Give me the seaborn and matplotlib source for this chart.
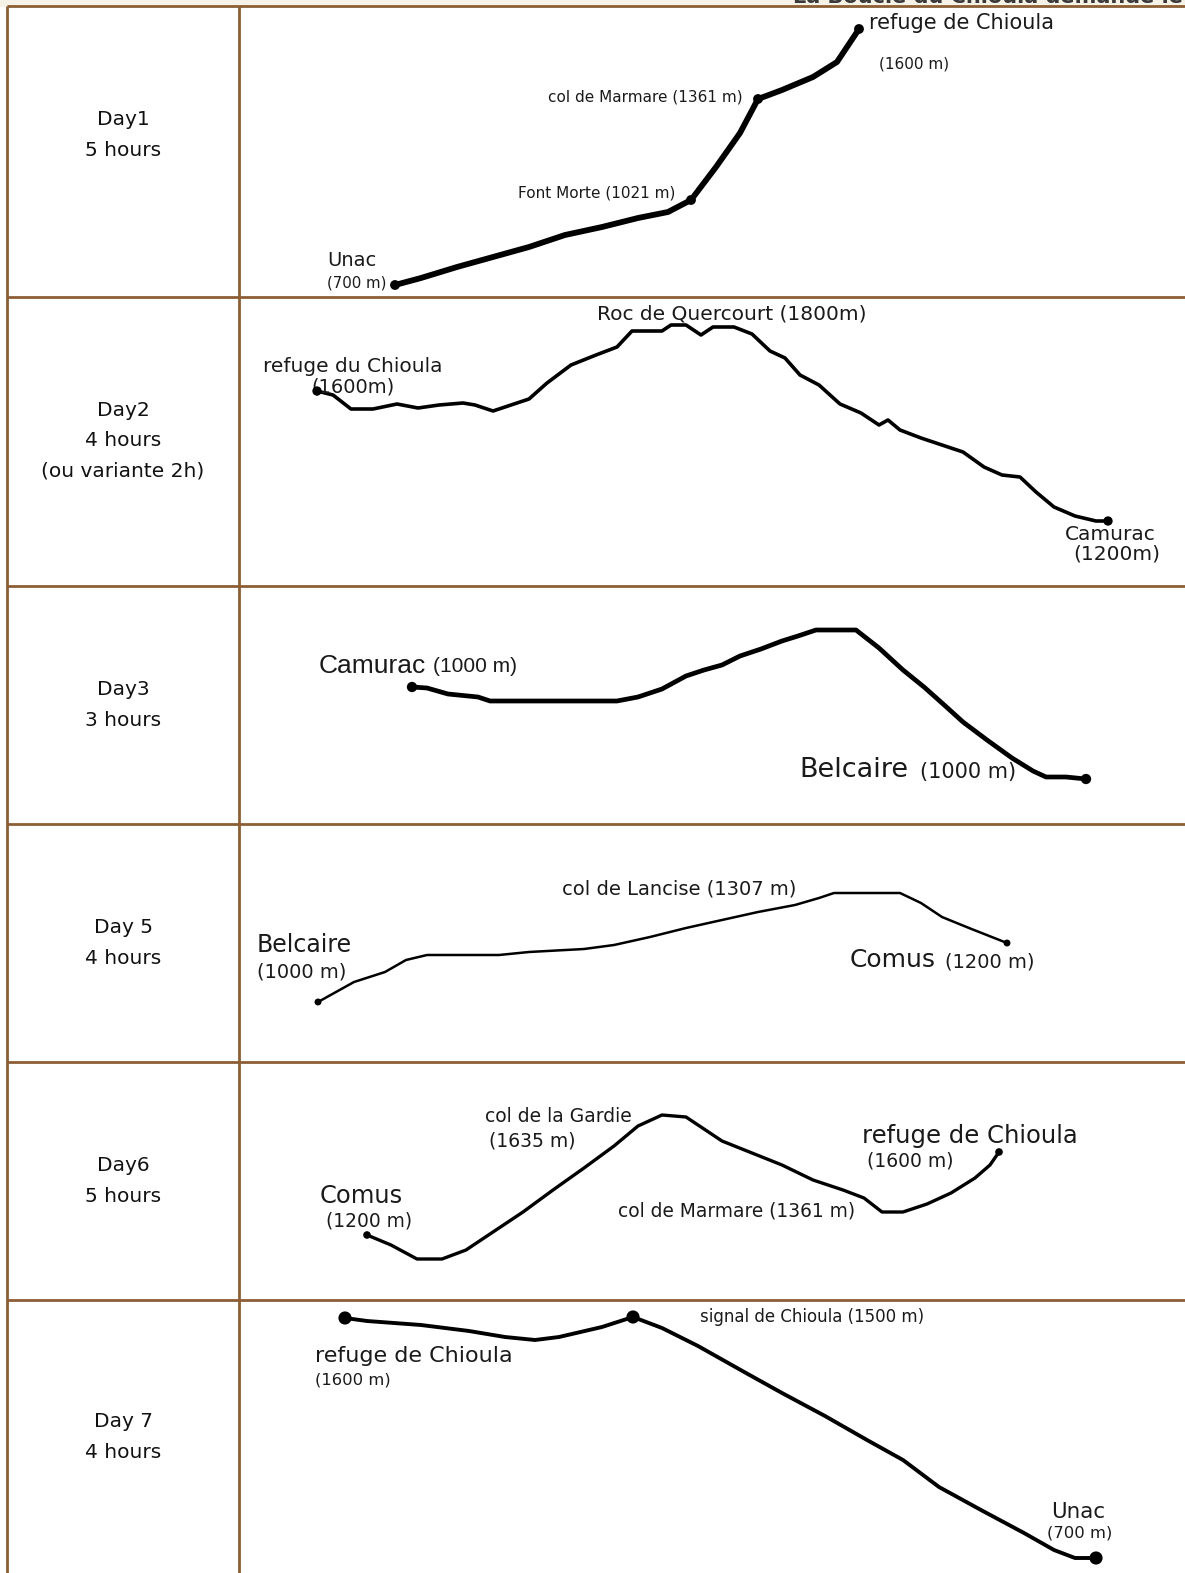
# Elevation profiles of the Chioula loop, one row per walking day
import pandas as pd
import seaborn as sns
from matplotlib import pyplot as plt

# ---- data (pixel positions of the traced profiles) ----
day_titles = ["Day1\n5 hours", "Day2\n4 hours\n(ou variante 2h)", "Day3\n3 hours",
              "Day 5\n4 hours", "Day6\n5 hours", "Day 7\n4 hours"]

day1_x = [395, 421, 457, 493, 529, 565, 602, 638, 668, 691, 716, 740, 758, 782, 813, 837, 859]
day1_y = [285, 278, 267, 257, 247, 235, 227, 218, 212, 200, 167, 133, 99, 90, 77, 62, 29]

day2_x = [317, 333, 351, 373, 397, 418, 439, 463, 475, 493, 508, 529, 547, 571, 596, 617,
          632, 662, 671, 686, 701, 713, 734, 752, 770, 785, 800, 819, 840, 861, 879, 888,
          900, 921, 942, 963, 984, 1002, 1020, 1036, 1054, 1075, 1096, 1108]
day2_y = [391, 395, 409, 409, 404, 408, 405, 403, 405, 411, 406, 399, 383, 365, 355, 347,
          331, 331, 325, 325, 335, 327, 327, 334, 351, 358, 375, 385, 404, 413, 425, 420,
          430, 438, 445, 452, 467, 475, 477, 492, 507, 516, 521, 521]

day3_x = [412, 427, 448, 478, 490, 584, 617, 638, 662, 686, 704, 722, 740, 761, 782, 798,
          816, 856, 879, 903, 924, 942, 963, 987, 1012, 1033, 1046, 1066, 1086]
day3_y = [687, 688, 694, 697, 701, 701, 701, 697, 689, 676, 670, 665, 656, 649, 641, 636,
          630, 630, 648, 670, 687, 703, 722, 740, 758, 771, 777, 777, 779]

day5_x = [318, 336, 354, 385, 406, 427, 499, 529, 584, 614, 650, 686, 722, 758, 795, 819,
          834, 900, 921, 942, 969, 1007]
day5_y = [1002, 992, 982, 972, 960, 955, 955, 952, 949, 945, 937, 928, 920, 912, 905, 898,
          893, 893, 903, 917, 928, 943]

day6_x = [367, 391, 417, 442, 466, 493, 523, 553, 584, 614, 638, 662, 686, 704, 722, 752,
          782, 813, 843, 864, 882, 903, 927, 951, 975, 990, 999]
day6_y = [1235, 1245, 1259, 1259, 1250, 1232, 1212, 1190, 1168, 1146, 1126, 1115, 1117, 1129,
          1141, 1153, 1165, 1180, 1190, 1198, 1212, 1212, 1204, 1193, 1178, 1165, 1152]

day7_x = [345, 367, 421, 469, 505, 535, 559, 602, 633, 662, 698, 746, 782, 825, 867, 903,
          939, 981, 1024, 1054, 1075, 1096]
day7_y = [1318, 1321, 1325, 1331, 1337, 1340, 1337, 1327, 1317, 1328, 1346, 1373, 1393, 1416,
          1440, 1460, 1487, 1510, 1533, 1550, 1558, 1558]

profiles = [(day1_x, day1_y), (day2_x, day2_y), (day3_x, day3_y),
            (day5_x, day5_y), (day6_x, day6_y), (day7_x, day7_y)]

# indices of the named stops that get a dot
stops = [[0, 9, 12, 16], [0, -1], [0, -1], [0, -1], [0, -1], [0, 8, -1]]

# ---- layout ----
W, H = 1185, 1573
row_edges = [6, 297, 586, 824, 1062, 1300]
col_left, col_mid = 7, 239
grid_color = "#8B5E34"
line_widths = [4.2, 2.6, 3.4, 1.8, 2.4, 2.8]
dot_sizes = [50, 45, 55, 25, 30, 90]
day_title_y = [135, 441, 705, 943, 1181, 1437]

# (text, x, y, size, family) - x is the left edge, y the vertical centre
labels = [
    ("refuge de Chioula", 869, 23, 15, "DejaVu Sans"),
    ("(1600 m)", 879, 64, 11, "DejaVu Sans"),
    ("col de Marmare (1361 m)", 548, 97, 11, "DejaVu Sans"),
    ("Font Morte (1021 m)", 518, 193, 11, "DejaVu Sans"),
    ("Unac", 327, 261, 14, "DejaVu Sans"),
    ("(700 m)", 327, 283, 10.8, "DejaVu Sans"),
    ("Roc de Quercourt (1800m)", 597, 314, 14.5, "DejaVu Sans"),
    ("refuge du Chioula", 263, 366, 14.5, "DejaVu Sans"),
    ("(1600m)", 311, 387, 14, "DejaVu Sans"),
    ("Camurac", 1065, 534, 14.5, "DejaVu Sans"),
    ("(1200m)", 1073, 554, 14.5, "DejaVu Sans"),
    ("Camurac", 319, 666, 19, "Liberation Sans"),
    ("(1000 m)", 433, 667, 15, "Liberation Sans"),
    ("Belcaire", 799, 770, 19.5, "DejaVu Sans"),
    ("(1000 m)", 920, 772, 15, "DejaVu Sans"),
    ("col de Lancise (1307 m)", 562, 889, 14, "DejaVu Sans"),
    ("Belcaire", 257, 945, 17, "DejaVu Sans"),
    ("(1000 m)", 257, 972, 14, "DejaVu Sans"),
    ("Comus", 850, 960, 18, "DejaVu Sans"),
    ("(1200 m)", 945, 962, 14, "DejaVu Sans"),
    ("col de la Gardie", 485, 1117, 13.5, "DejaVu Sans"),
    ("(1635 m)", 489, 1141, 13.5, "DejaVu Sans"),
    ("refuge de Chioula", 862, 1136, 17.5, "DejaVu Sans"),
    ("(1600 m)", 867, 1161, 13.5, "DejaVu Sans"),
    ("Comus", 320, 1196, 17.4, "DejaVu Sans"),
    ("(1200 m)", 326, 1221, 13.4, "DejaVu Sans"),
    ("col de Marmare (1361 m)", 618, 1211, 13.4, "DejaVu Sans"),
    ("signal de Chioula (1500 m)", 700, 1317, 12, "DejaVu Sans"),
    ("refuge de Chioula", 315, 1356, 16, "DejaVu Sans"),
    ("(1600 m)", 315, 1380, 11.8, "DejaVu Sans"),
    ("Unac", 1051, 1512, 15.4, "DejaVu Sans"),
    ("(700 m)", 1047, 1533, 11.8, "DejaVu Sans"),
]

sns.set_style("white")
plt.rcParams['font.family'] = ['DejaVu Sans']

fig = plt.figure(figsize=(W / 100, H / 100), dpi=100)
ax = fig.add_axes([0, 0, 1, 1])

# cream strip with the heading cut off by the top edge (as in the scan)
ax.axhspan(0, row_edges[0], color="#f7f2e6", zorder=0)
ax.text(1183, -3, "La Boucle du Chioula demande le", ha="right", va="center",
        fontsize=15, fontweight="bold", color="#3a3a3a", zorder=1)

# table grid
ax.hlines(row_edges, col_left, W, color=grid_color, lw=2, zorder=2)
ax.vlines([col_left, col_mid], row_edges[0], H, color=grid_color, lw=2, zorder=2)

# day titles in the left column
for title, ty in zip(day_titles, day_title_y):
    ax.text(123, ty, title, ha="center", va="center", fontsize=14.5,
            linespacing=1.75, color="#111111")

# elevation profiles
for i, (px, py) in enumerate(profiles):
    df = pd.DataFrame({"dist": px, "height": py})
    sns.lineplot(data=df, x="dist", y="height", sort=False, estimator=None,
                 color="black", lw=line_widths[i], ax=ax,
                 solid_joinstyle="round", solid_capstyle="round")
    dots = df.iloc[stops[i]]
    sns.scatterplot(data=dots, x="dist", y="height", color="black",
                    s=dot_sizes[i], edgecolor="none", ax=ax, zorder=5)

for text, lx, ly, size, fam in labels:
    ax.text(lx, ly, text, ha="left", va="center", fontsize=size,
            family=fam, color="#1a1a1a")

ax.set_xlim(0, W)
ax.set_ylim(H, 0)
ax.axis("off")
fig.savefig("out.png", dpi=100)
